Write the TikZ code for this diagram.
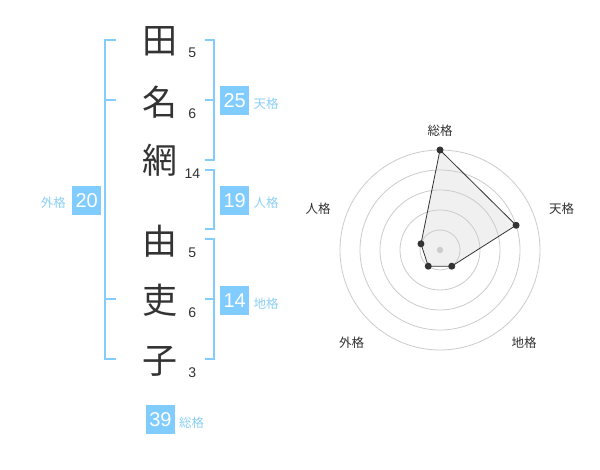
\documentclass[tikz,border=0pt]{standalone}
\usepackage{fontspec}
\usetikzlibrary{calc}
\setmainfont{Liberation Sans}
\newfontfamily\jp{Noto Sans CJK JP}
\definecolor{boxblue}{RGB}{128,204,255}
\definecolor{lineblue}{RGB}{130,205,252}
\definecolor{lblblue}{RGB}{140,208,245}
\definecolor{dark}{RGB}{51,51,51}
\definecolor{ring}{RGB}{204,204,204}
\definecolor{polyfill}{RGB}{240,240,240}
\begin{document}
\begin{tikzpicture}[x=1pt,y=-1pt,
  kanji/.style={inner sep=0pt,text=dark,font=\jp\fontsize{35}{35}\selectfont},
  strokes/.style={inner sep=0pt,text=dark,font=\fontsize{14}{14}\selectfont},
  valbox/.style={fill=boxblue,text=white,minimum width=29pt,minimum height=29pt,inner sep=0pt,font=\fontsize{20}{20}\selectfont},
  kaku/.style={inner sep=0pt,text=lblblue,font=\jp\fontsize{12.5}{12.5}\selectfont},
  brk/.style={draw=lineblue,line width=2pt},
  axlbl/.style={inner sep=0pt,text=dark,font=\jp\fontsize{12.5}{12.5}\selectfont},
  ringc/.style={draw=ring,line width=0.8pt},
  pt/.style={circle,fill=dark,inner sep=0pt,minimum size=7pt}]
\useasboundingbox (0,0) rectangle (600,470);
\fill[white] (0,0) rectangle (600,470);
% characters
\node[kanji] (k1) at (160,41.7) {田};
\node[kanji] (k2) at (160,101.7) {名};
\node[kanji] (k3) at (160,160.5) {網};
\node[kanji] (k4) at (160,241.7) {由};
\node[kanji] (k5) at (160,300.5) {吏};
\node[kanji] (k6) at (160,361.7) {子};
\node[strokes] (s1) at (192.3,52.3) {5};
\node[strokes] (s2) at (192.3,113.3) {6};
\node[strokes] (s3) at (192.3,173.3) {14};
\node[strokes] (s4) at (192.3,252.7) {5};
\node[strokes] (s5) at (192.3,312.7) {6};
\node[strokes] (s6) at (192.3,372.7) {3};
% brackets
\draw[brk] (116,40) -- (105,40) -- (105,359.3) -- (116,359.3);
\draw[brk] (105,100) -- (116,100);
\draw[brk] (105,299.3) -- (116,299.3);
\draw[brk] (205,40) -- (214.3,40) -- (214.3,160) -- (205,160);
\draw[brk] (205,100) -- (214.3,100);
\draw[brk] (205,170) -- (214.3,170) -- (214.3,229.3) -- (205,229.3);
\draw[brk] (205,239.3) -- (214.3,239.3) -- (214.3,359.3) -- (205,359.3);
\draw[brk] (205,299.3) -- (214.3,299.3);
% value boxes
\node[valbox] (ten) at (234.7,100.5) {25};
\node[kaku] (tenl) at (266,103.5) {天格};
\node[valbox] (jin) at (234.7,200.5) {19};
\node[kaku] (jinl) at (266,203) {人格};
\node[valbox] (chi) at (234.7,300.5) {14};
\node[kaku] (chil) at (266,303.5) {地格};
\node[valbox] (gai) at (86.7,200.5) {20};
\node[kaku] (gail) at (53.3,203) {外格};
\node[valbox] (so) at (160.5,419.5) {39};
\node[kaku] (sol) at (191.7,422.3) {総格};
% radar
\coordinate (c) at (440,250);
\coordinate (p1) at ($(c)+(-90:100)$);
\coordinate (p2) at ($(c)+(-18:80)$);
\coordinate (p3) at ($(c)+(54:20)$);
\coordinate (p4) at ($(c)+(126:20)$);
\coordinate (p5) at ($(c)+(198:20)$);
\fill[polyfill] (p1) -- (p2) -- (p3) -- (p4) -- (p5) -- cycle;
\foreach \r in {20,40,60,80,100} \draw[ringc] (c) circle (\r);
\draw[dark,line width=0.8pt] (p1) -- (p2) -- (p3) -- (p4) -- (p5) -- cycle;
\fill[ring] (c) circle (3.2);
\foreach \p in {p1,p2,p3,p4,p5} \node[pt] at (\p) {};
\node[axlbl] (a1) at (440,131) {総格};
\node[axlbl] (a2) at (561.7,208.5) {天格};
\node[axlbl] (a3) at (524,342.5) {地格};
\node[axlbl] (a4) at (351.7,342.5) {外格};
\node[axlbl] (a5) at (318,208.5) {人格};
\end{tikzpicture}
\end{document}
